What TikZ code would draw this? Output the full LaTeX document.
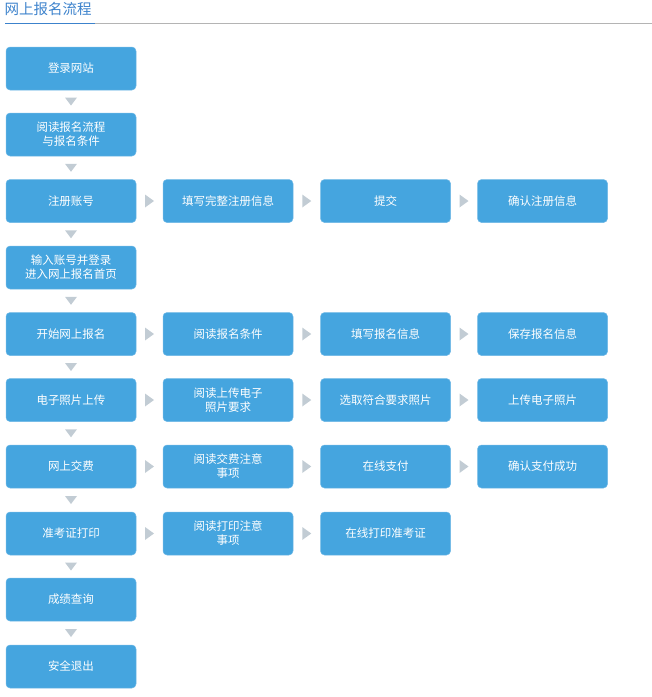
\documentclass[tikz,border=0pt]{standalone}
\usepackage{fontspec}
\setmainfont{Noto Sans CJK SC}
\usetikzlibrary{calc}
\definecolor{boxblue}{HTML}{45A5DF}
\definecolor{boxedge}{HTML}{6FB8E6}
\definecolor{titleblue}{HTML}{3C82CC}
\definecolor{arrgray}{HTML}{C2CCD4}
\definecolor{linegray}{HTML}{B4B4B4}
\tikzset{
  x=1pt,y=-1pt,
  stepbox/.style={rectangle,rounded corners=4pt,fill=boxblue,draw=boxedge,line width=0.5pt,
    minimum width=130pt,minimum height=43pt,text=white,align=center,
    font=\fontsize{11.5pt}{14pt}\selectfont,inner sep=0pt},
  arr/.style={fill=arrgray,draw=none}
}
\newcommand{\downarr}[2]{\fill[arr] ($(#1.south)!0.5!(#2.north)$) ++(-6,-4) -- ++(12,0) -- ++(-6,8) -- cycle;}
\newcommand{\rightarr}[2]{\fill[arr] ($(#1.east)!0.5!(#2.west)$) ++(-4.5,-6.5) -- ++(9,6.5) -- ++(-9,6.5) -- cycle;}
\begin{document}
\begin{tikzpicture}
\useasboundingbox (0,0) rectangle (652,697);
\node[anchor=west,text=titleblue,font=\fontsize{14.5pt}{16pt}\selectfont,inner sep=0pt] (title) at (4.5,9) {网上报名流程};
\coordinate (ul0) at (5,23);
\coordinate (ul1) at (95,23);
\coordinate (ul2) at (652,23);
\draw[linegray,line width=0.8pt] (ul1) -- (ul2);
\draw[titleblue,line width=1pt] (ul0) -- (ul1);
% column 1
\node[stepbox] (a1) at (71,68.5) {登录网站};
\node[stepbox] (a2) at (71,134.5) {阅读报名流程\\与报名条件};
\node[stepbox] (a3) at (71,201) {注册账号};
\node[stepbox] (a4) at (71,267.5) {输入账号并登录\\进入网上报名首页};
\node[stepbox] (a5) at (71,334) {开始网上报名};
\node[stepbox] (a6) at (71,400) {电子照片上传};
\node[stepbox] (a7) at (71,466.5) {网上交费};
\node[stepbox] (a8) at (71,533.5) {准考证打印};
\node[stepbox] (a9) at (71,599.5) {成绩查询};
\node[stepbox] (a10) at (71,666.5) {安全退出};
% row 3
\node[stepbox] (b3) at (228,201) {填写完整注册信息};
\node[stepbox] (c3) at (385.5,201) {提交};
\node[stepbox] (d3) at (542.5,201) {确认注册信息};
% row 5
\node[stepbox] (b5) at (228,334) {阅读报名条件};
\node[stepbox] (c5) at (385.5,334) {填写报名信息};
\node[stepbox] (d5) at (542.5,334) {保存报名信息};
% row 6
\node[stepbox] (b6) at (228,400) {阅读上传电子\\照片要求};
\node[stepbox] (c6) at (385.5,400) {选取符合要求照片};
\node[stepbox] (d6) at (542.5,400) {上传电子照片};
% row 7
\node[stepbox] (b7) at (228,466.5) {阅读交费注意\\事项};
\node[stepbox] (c7) at (385.5,466.5) {在线支付};
\node[stepbox] (d7) at (542.5,466.5) {确认支付成功};
% row 8
\node[stepbox] (b8) at (228,533.5) {阅读打印注意\\事项};
\node[stepbox] (c8) at (385.5,533.5) {在线打印准考证};
% down arrows
\downarr{a1}{a2}
\downarr{a2}{a3}
\downarr{a3}{a4}
\downarr{a4}{a5}
\downarr{a5}{a6}
\downarr{a6}{a7}
\downarr{a7}{a8}
\downarr{a8}{a9}
\downarr{a9}{a10}
% right arrows
\rightarr{a3}{b3}\rightarr{b3}{c3}\rightarr{c3}{d3}
\rightarr{a5}{b5}\rightarr{b5}{c5}\rightarr{c5}{d5}
\rightarr{a6}{b6}\rightarr{b6}{c6}\rightarr{c6}{d6}
\rightarr{a7}{b7}\rightarr{b7}{c7}\rightarr{c7}{d7}
\rightarr{a8}{b8}\rightarr{b8}{c8}
\end{tikzpicture}
\end{document}
